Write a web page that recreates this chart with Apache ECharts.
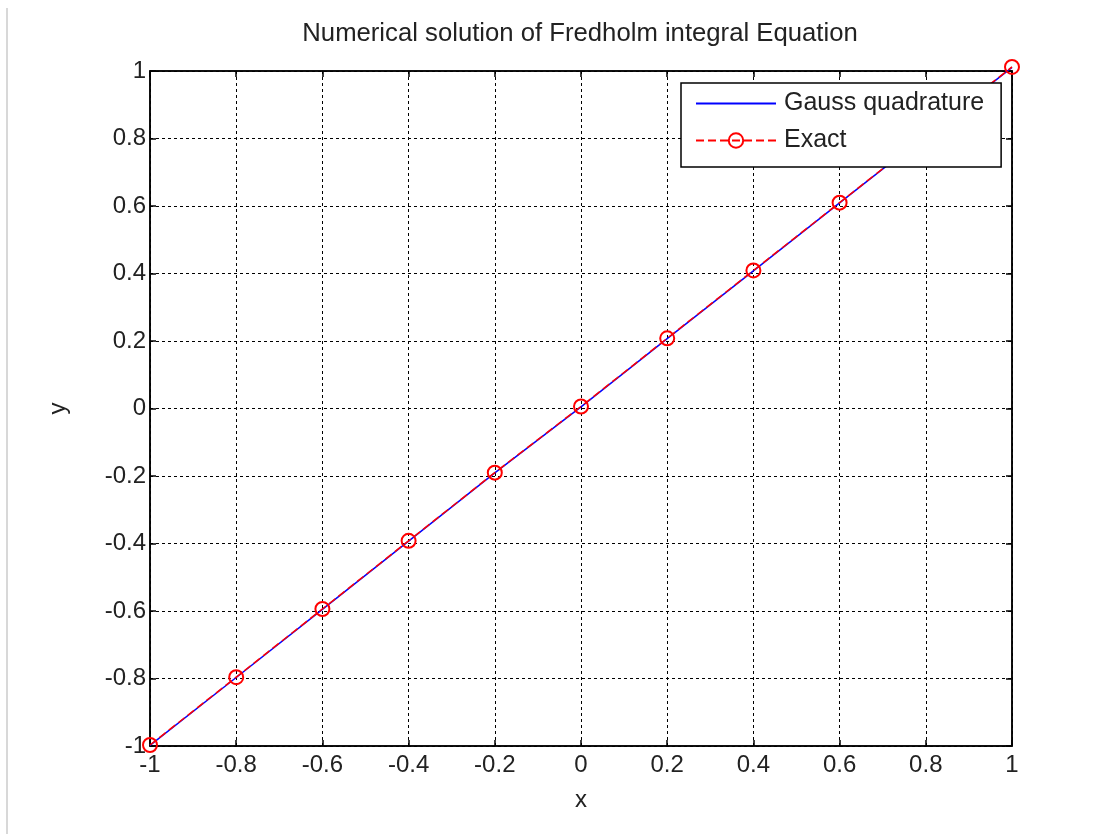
<!DOCTYPE html>
<html>
<head>
<meta charset="utf-8">
<script src="https://cdn.jsdelivr.net/npm/echarts@6/dist/echarts.min.js"></script>
<style>
html,body{margin:0;padding:0;background:#fff;}
#main{width:1113px;height:834px;}
</style>
</head>
<body>
<div id="main"></div>
<script>
var titleText = 'Numerical solution of Fredholm integral Equation';
var xValues = [-1, -0.8, -0.6, -0.4, -0.2, 0, 0.2, 0.4, 0.6, 0.8, 1];
var gaussValues = [-0.998, -0.797, -0.595, -0.393, -0.191, 0.005, 0.207, 0.408, 0.609, 0.81, 1.011];
var exactValues = [-0.997, -0.796, -0.594, -0.392, -0.19, 0.006, 0.208, 0.409, 0.61, 0.811, 1.012];
var xTickLabels = ['-1', '-0.8', '-0.6', '-0.4', '-0.2', '0', '0.2', '0.4', '0.6', '0.8', '1'];
var yTickLabels = ['-1', '-0.8', '-0.6', '-0.4', '-0.2', '0', '0.2', '0.4', '0.6', '0.8', '1'];

function pairs(xs, ys) { return xs.map(function (x, i) { return [x, ys[i]]; }); }
function fmt(labels) {
  return function (v) {
    var idx = Math.round((v + 1) / 0.2);
    return labels[idx] !== undefined ? labels[idx] : '';
  };
}

var FONT = 'Liberation Sans';
var chart = echarts.init(document.getElementById('main'), null, {renderer: 'canvas'});
var gridLine = {show: true, lineStyle: {color: '#000', type: [3, 3], width: 1}};
var axisLineStyle = {show: true, onZero: false, lineStyle: {color: '#000', width: 1.5}};
var tickStyle = {show: true, inside: true, length: 6, lineStyle: {color: '#000', width: 1.5}};
var option = {
  backgroundColor: '#fff',
  animation: false,
  title: {
    text: titleText, left: 575, top: 16, textAlign: 'center',
    textStyle: {fontFamily: FONT, fontSize: 25.7, fontWeight: 'normal', color: '#222'}
  },
  legend: {
    left: 681, top: 83, orient: 'vertical',
    backgroundColor: '#fff', borderColor: '#000', borderWidth: 1.5, borderRadius: 0,
    padding: [8, 17, 14, 14], itemGap: 12,
    itemWidth: 80, itemHeight: 18,
    textStyle: {fontFamily: FONT, fontSize: 25, color: '#222', padding: [0, 0, 0, 3]},
    data: ['Gauss quadrature', 'Exact']
  },
  grid: {left: 150, right: 101, top: 71, bottom: 88, show: true, borderColor: '#000', borderWidth: 1.5, backgroundColor: 'transparent'},
  xAxis: [{
    type: 'value', min: -1, max: 1, interval: 0.2,
    name: 'x', nameLocation: 'middle', nameGap: 42,
    nameTextStyle: {fontFamily: FONT, fontSize: 24, color: '#222'},
    axisLine: axisLineStyle, axisTick: tickStyle,
    axisLabel: {fontFamily: FONT, fontSize: 24, color: '#222', margin: 7, formatter: fmt(xTickLabels)},
    splitLine: gridLine
  }, {
    type: 'value', min: -1, max: 1, interval: 0.2, position: 'top',
    axisLine: axisLineStyle, axisTick: tickStyle,
    axisLabel: {show: false}, splitLine: {show: false}
  }],
  yAxis: [{
    type: 'value', min: -1, max: 1, interval: 0.2,
    name: 'y', nameLocation: 'middle', nameGap: 80, nameRotate: 90,
    nameTextStyle: {fontFamily: FONT, fontSize: 24, color: '#222'},
    axisLine: axisLineStyle, axisTick: tickStyle,
    axisLabel: {fontFamily: FONT, fontSize: 24, color: '#222', margin: 4, formatter: fmt(yTickLabels)},
    splitLine: gridLine
  }, {
    type: 'value', min: -1, max: 1, interval: 0.2, position: 'right',
    axisLine: axisLineStyle, axisTick: tickStyle,
    axisLabel: {show: false}, splitLine: {show: false}
  }],
  series: [{
    name: 'Gauss quadrature', type: 'line', data: pairs(xValues, gaussValues),
    symbol: 'circle', showSymbol: false, clip: false,
    lineStyle: {color: '#0000ff', width: 1.5}, itemStyle: {color: '#0000ff', opacity: 0}
  }, {
    name: 'Exact', type: 'line', data: pairs(xValues, exactValues),
    symbol: 'circle', symbolSize: 14, clip: false,
    lineStyle: {color: '#ff0000', width: 1.5, type: [8, 4]},
    itemStyle: {color: 'rgba(255,255,255,0)', borderColor: '#ff0000', borderWidth: 2}
  }],
  graphic: [{
    type: 'rect', shape: {x: 6, y: 8, width: 2, height: 826},
    style: {fill: '#d8d8d8'}, silent: true
  }]
};
chart.setOption(option);
</script>
</body>
</html>
